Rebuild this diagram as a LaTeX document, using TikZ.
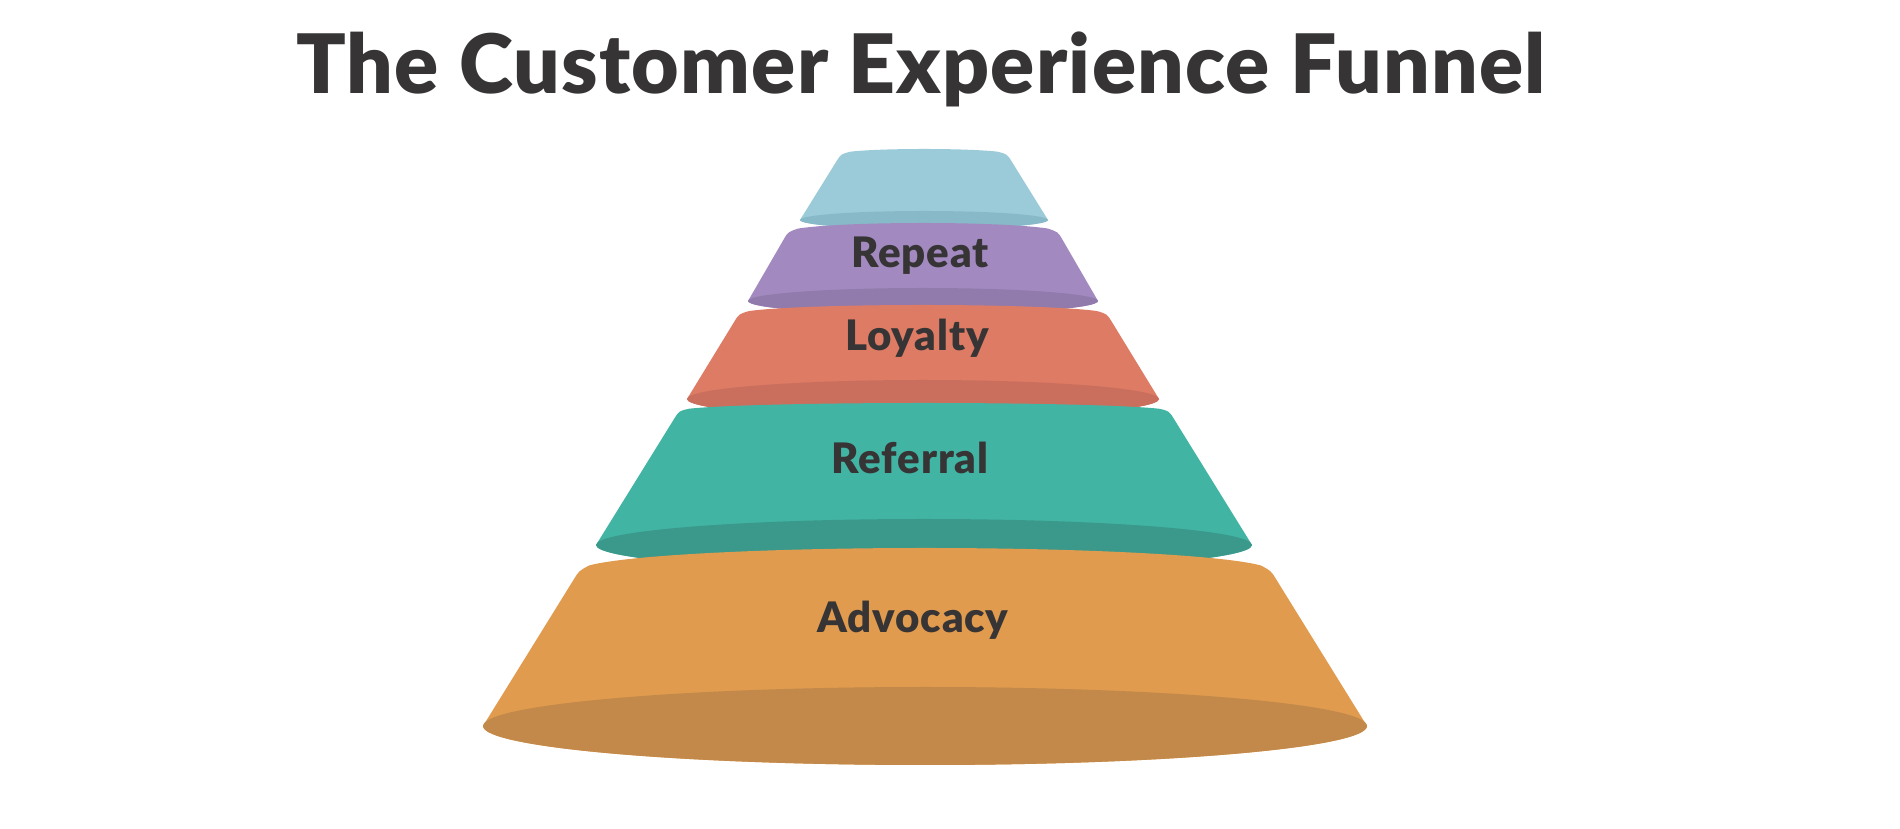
\documentclass[tikz,border=0pt]{standalone}
\usepackage{fontspec}
\usetikzlibrary{calc}
\setmainfont{Lato}[BoldFont=* Black]
\definecolor{blueL}{HTML}{9BCBD9}
\definecolor{blueD}{HTML}{88B9C8}
\definecolor{purpL}{HTML}{A28AC0}
\definecolor{purpD}{HTML}{917BAD}
\definecolor{redL}{HTML}{DE7B65}
\definecolor{redD}{HTML}{CA6F5D}
\definecolor{tealL}{HTML}{42B4A3}
\definecolor{tealD}{HTML}{3A998B}
\definecolor{orgL}{HTML}{E09B4E}
\definecolor{orgD}{HTML}{C2894A}
\definecolor{txt}{HTML}{363435}
% #1 cx, #2 top y (px, down), #3 top rx, #4 top ry, #5 bottom y, #6 bottom rx, #7 bottom ry, #8 light, #9 dark
\newcommand{\funnelpart}[9]{%
  \coordinate (TL) at ({#1-#3},{829-#2});
  \coordinate (TR) at ({#1+#3},{829-#2});
  \coordinate (BL) at ({#1-#6},{829-#5});
  \coordinate (BR) at ({#1+#6},{829-#5});
  \fill[#8] (BL) -- ($(TL)!9pt!(BL)$) .. controls (TL) ..
    ({#1-#3+10},{829-#2+#4*sin(acos(1-10/#3))})
    arc[start angle={180-acos(1-10/#3)}, end angle={acos(1-10/#3)}, x radius=#3pt, y radius=#4pt]
    .. controls (TR) .. ($(TR)!9pt!(BR)$) -- (BR)
    arc[start angle=0, end angle=-180, x radius=#6pt, y radius=#7pt] -- cycle;
  \fill[#9] (#1,{829-#5}) ellipse[x radius=#6pt, y radius=#7pt];
}
\tikzset{
  titletext/.style={anchor=base, text=txt, inner sep=0pt, font=\fontsize{82}{92}\selectfont\bfseries\addfontfeatures{LetterSpace=1.5}},
  tiertext/.style={anchor=base, text=txt, inner sep=0pt, font=\fontsize{42}{48}\selectfont\bfseries\addfontfeatures{LetterSpace=2}}
}
\begin{document}
\begin{tikzpicture}[x=1pt,y=1pt]
\useasboundingbox (0,0) rectangle (1900,829);
\fill[white] (0,0) rectangle (1900,829);
\node[titletext] (title) at (921,{829-94}) {The Customer Experience Funnel};
\funnelpart{924}{154}{83}{5}{220}{124}{9}{blueL}{blueD}
\funnelpart{923}{232}{135}{9}{301}{175}{13}{purpL}{purpD}
\funnelpart{923}{314}{184}{9}{399}{236}{19}{redL}{redD}
\funnelpart{924}{411}{245}{8}{545}{328}{26}{tealL}{tealD}
\funnelpart{925}{571}{346}{23}{726}{442}{39}{orgL}{orgD}
\node[tiertext] (repeat) at (920,{829-268}) {Repeat};
\node[tiertext] (loyalty) at (917,{829-351}) {Loyalty};
\node[tiertext] (referral) at (910,{829-474}) {Referral};
\node[tiertext] (advocacy) at (913,{829-633}) {Advocacy};
\end{tikzpicture}
\end{document}
